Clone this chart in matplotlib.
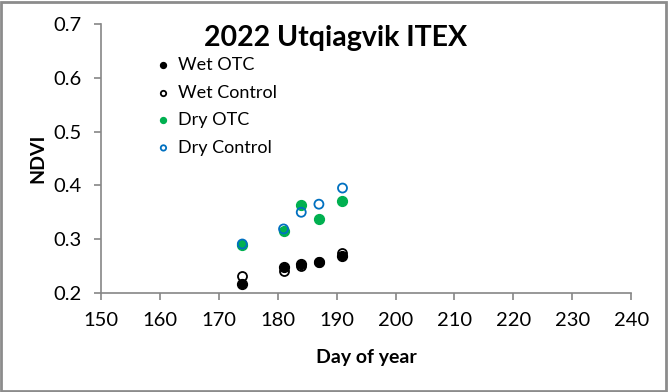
import matplotlib.pyplot as plt
from matplotlib.patches import Rectangle

plt.rcParams['font.family'] = ['Lato', 'DejaVu Sans']

days = [174, 181, 184, 187, 191]
wet_otc = [0.216, 0.249, 0.254, 0.257, 0.268]
wet_control = [0.232, 0.240, 0.251, 0.257, 0.274]
dry_otc = [0.290, 0.315, 0.364, 0.338, 0.370]
dry_control = [0.291, 0.319, 0.350, 0.365, 0.395]

green = '#00B050'
blue = '#0070C0'
axis_grey = '#868686'

fig = plt.figure(figsize=(6.68, 3.92), dpi=100)
ax = fig.add_axes([0.151, 0.2526, 0.794, 0.6864])

ax.scatter(days, wet_control, s=42, facecolor='white', edgecolor='black', linewidth=1.3,
           label='Wet Control', zorder=3)
ax.scatter(days, wet_otc, s=50, color='black', label='Wet OTC', zorder=4)
ax.scatter(days, dry_otc, s=50, color=green, label='Dry OTC', zorder=3)
ax.scatter(days, dry_control, s=42, facecolor='none', edgecolor=blue, linewidth=1.3,
           label='Dry Control', zorder=4)

ax.set_xlim(150, 240)
ax.set_ylim(0.2, 0.7)
ax.set_xticks(range(150, 241, 10))
ax.set_yticks([0.2, 0.3, 0.4, 0.5, 0.6, 0.7])
ax.set_yticklabels(['0.2', '0.3', '0.4', '0.5', '0.6', '0.7'])

for side in ['top', 'right']:
    ax.spines[side].set_visible(False)
for side in ['left', 'bottom']:
    ax.spines[side].set_color(axis_grey)
    ax.spines[side].set_linewidth(1.2)
ax.tick_params(colors=axis_grey, labelcolor='black', labelsize=14.5, length=5, width=1.2)
ax.tick_params(axis='x', pad=9)
ax.tick_params(axis='y', pad=9)

ax.set_xlabel('Day of year', fontsize=14, fontweight='bold', labelpad=14)
ax.set_ylabel('NDVI', fontsize=14, fontweight='bold', labelpad=5)

fig.text(0.503, 1 - 46 / 392, '2022 Utqiagvik ITEX', fontsize=20.5, fontweight='bold',
         ha='center', va='baseline')

handles, labels = ax.get_legend_handles_labels()
order = [1, 0, 2, 3]
leg = fig.legend([handles[i] for i in order], [labels[i] for i in order],
                 loc='upper left', bbox_to_anchor=(149 / 668, 1 - 57 / 392),
                 frameon=False, fontsize=13, handlelength=1.6, handletextpad=0.0,
                 labelspacing=0.64, markerscale=0.6, borderaxespad=0, borderpad=0)

fig.patches.append(Rectangle((0.002, 0.003), 0.995, 0.993, transform=fig.transFigure,
                             fill=False, edgecolor='#8c8c8c', linewidth=2))

fig.savefig('out.png', dpi=100)
